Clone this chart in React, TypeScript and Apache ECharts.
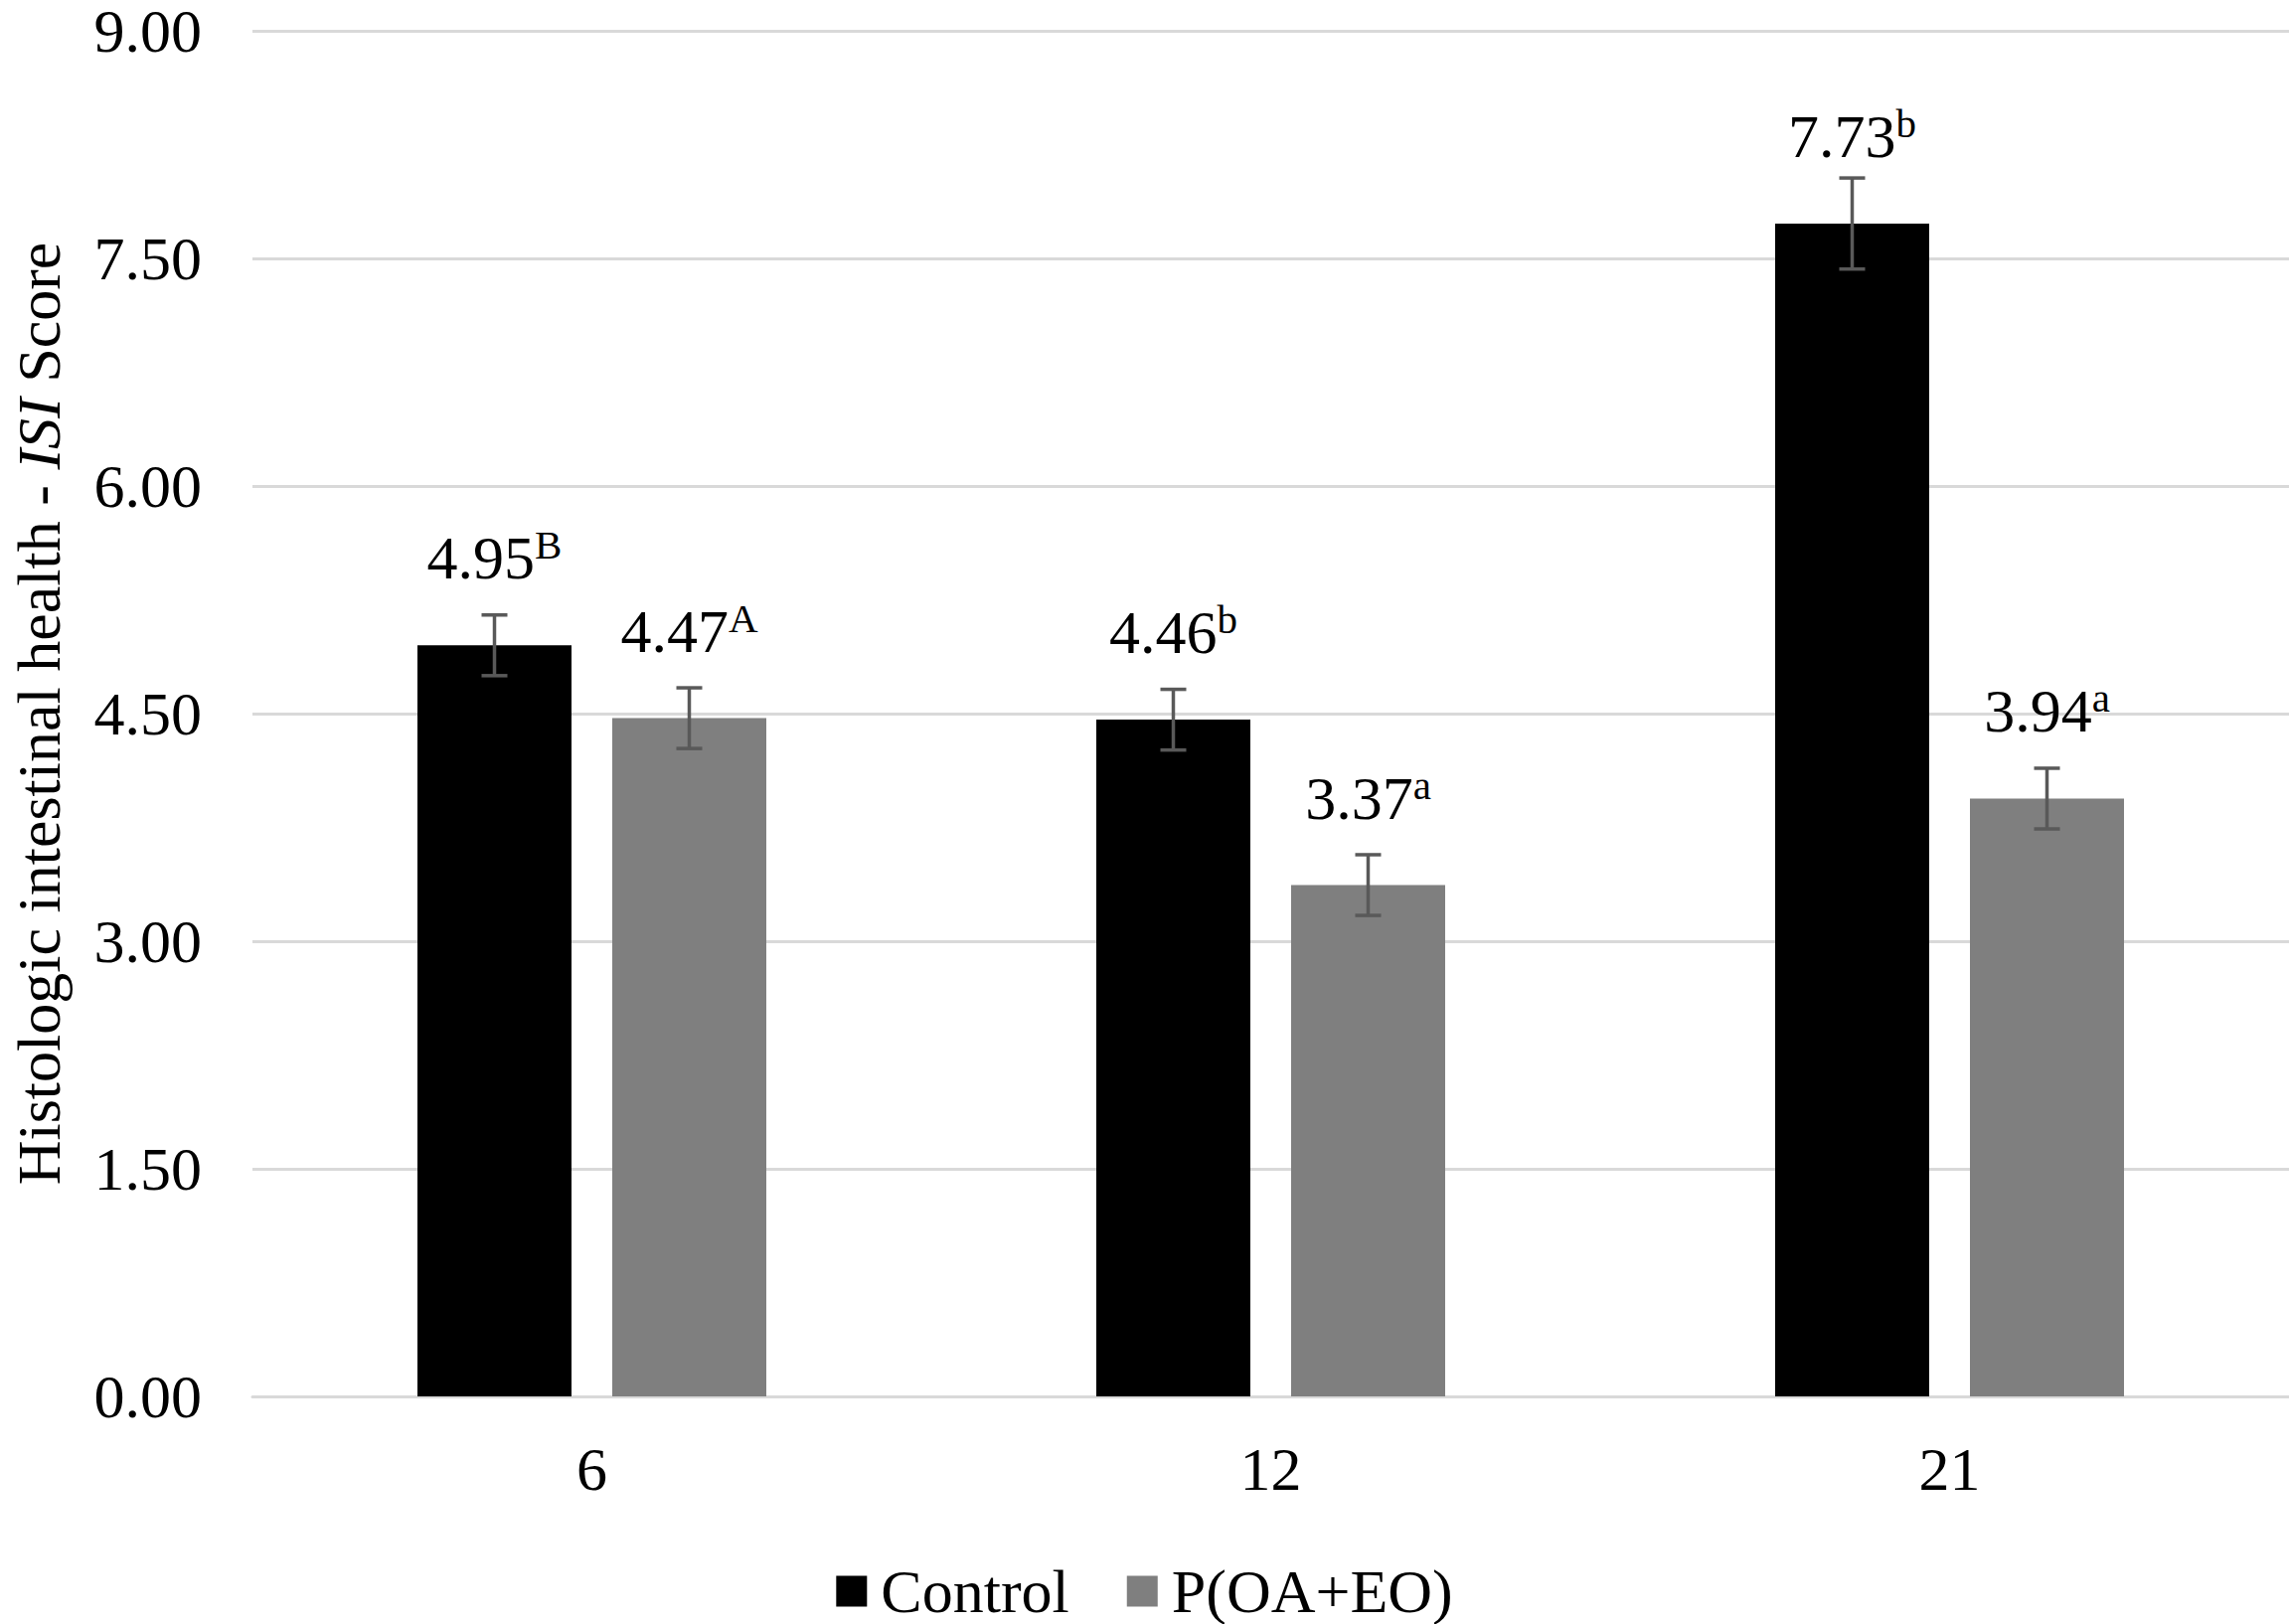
import React, { useEffect, useRef } from 'react';
import * as echarts from 'echarts';

const categories = ['6', '12', '21'];
const seriesNames = ['Control', 'P(OA+EO)'];
const controlValues = [4.95, 4.46, 7.73];
const treatedValues = [4.47, 3.37, 3.94];
const controlErrors = [0.2, 0.2, 0.3];
const treatedErrors = [0.2, 0.2, 0.2];
const controlLetters = ['B', 'b', 'b'];
const treatedLetters = ['A', 'a', 'a'];
const yMin = 0;
const yMax = 9;
const yInterval = 1.5;

const FONT = "'Liberation Serif', 'Times New Roman', serif";
const BAR_W = 155;
const BAR_GAP_PX = 41;
const colors = ['#000000', '#7f7f7f'];

export default function App() {
  const ref = useRef<HTMLDivElement>(null);
  useEffect(() => {
    if (!ref.current) return;
    const chart = echarts.init(ref.current, undefined, { renderer: 'svg' });
    const offset = (BAR_W + BAR_GAP_PX) / 2;

    const labelRich = {
      v: { fontSize: 62, fontFamily: FONT, color: '#000' },
      s: { fontSize: 41, fontFamily: FONT, color: '#000', verticalAlign: 'top', height: 36 },
    };

    const makeBar = (name: string, values: number[], letters: string[], color: string) => ({
      name,
      type: 'bar',
      barWidth: BAR_W,
      barGap: (BAR_GAP_PX / BAR_W) * 100 + '%',
      itemStyle: { color },
      data: values,
      label: {
        show: true,
        position: 'top',
        distance: 57,
        formatter: (p: any) => `{v|${values[p.dataIndex].toFixed(2)}}{s|${letters[p.dataIndex]}}`,
        rich: labelRich,
      },
      z: 2,
    });

    const makeErr = (name: string, values: number[], errors: number[], dir: number) => ({
      name,
      type: 'custom',
      z: 5,
      silent: true,
      data: values.map((v, i) => [i, v, errors[i]]),
      encode: { x: 0, y: 1 },
      renderItem: (params: any, api: any) => {
        const cat = api.value(0);
        const v = api.value(1);
        const e = api.value(2);
        const top = api.coord([cat, v + e]);
        const bot = api.coord([cat, v - e]);
        const x = top[0] + dir * offset;
        const cap = 13;
        const style = { stroke: '#595959', lineWidth: 3.5 };
        return {
          type: 'group',
          children: [
            { type: 'line', shape: { x1: x, y1: top[1], x2: x, y2: bot[1] }, style },
            { type: 'line', shape: { x1: x - cap, y1: top[1], x2: x + cap, y2: top[1] }, style },
            { type: 'line', shape: { x1: x - cap, y1: bot[1], x2: x + cap, y2: bot[1] }, style },
          ],
        };
      },
    });

    chart.setOption({
      animation: false,
      backgroundColor: '#ffffff',
      textStyle: { fontFamily: FONT },
      grid: { left: 237, right: 0, top: 24, bottom: 229, containLabel: false },
      legend: {
        data: seriesNames,
        left: 'center',
        top: 1570,
        padding: 0,
        icon: 'rect',
        itemWidth: 31,
        itemHeight: 31,
        itemGap: 58,
        textStyle: {
          fontSize: 62,
          lineHeight: 50,
          fontFamily: FONT,
          color: '#000',
          padding: [0, 0, 0, 9],
        },
      },
      xAxis: {
        type: 'category',
        data: categories,
        axisTick: { show: false },
        axisLine: { show: true, lineStyle: { color: '#d9d9d9', width: 3 } },
        axisLabel: { fontSize: 62, fontFamily: FONT, color: '#000', margin: 42 },
      },
      yAxis: {
        type: 'value',
        min: yMin,
        max: yMax,
        interval: yInterval,
        axisLine: { show: false },
        axisTick: { show: false },
        splitLine: { show: true, lineStyle: { color: '#d9d9d9', width: 3 } },
        axisLabel: {
          fontSize: 62,
          lineHeight: 40,
          fontFamily: FONT,
          color: '#000',
          margin: 51,
          formatter: (v: number) => v.toFixed(2),
        },
        name: '{n|Histologic intestinal health - }{i|ISI}{n| Score}',
        nameLocation: 'middle',
        nameRotate: 90,
        nameGap: 184,
        nameTextStyle: {
          rich: {
            n: { fontSize: 62, fontFamily: FONT, color: '#000' },
            i: { fontSize: 62, fontFamily: FONT, color: '#000', fontStyle: 'italic' },
          },
        },
      },
      series: [
        makeBar(seriesNames[0], controlValues, controlLetters, colors[0]),
        makeBar(seriesNames[1], treatedValues, treatedLetters, colors[1]),
        makeErr('errControl', controlValues, controlErrors, -1),
        makeErr('errTreated', treatedValues, treatedErrors, 1),
      ],
    });
    return () => chart.dispose();
  }, []);
  return (
    <div
      ref={ref}
      style={{ position: 'absolute', left: 0, top: 0, width: 2303, height: 1634, background: '#fff' }}
    />
  );
}
